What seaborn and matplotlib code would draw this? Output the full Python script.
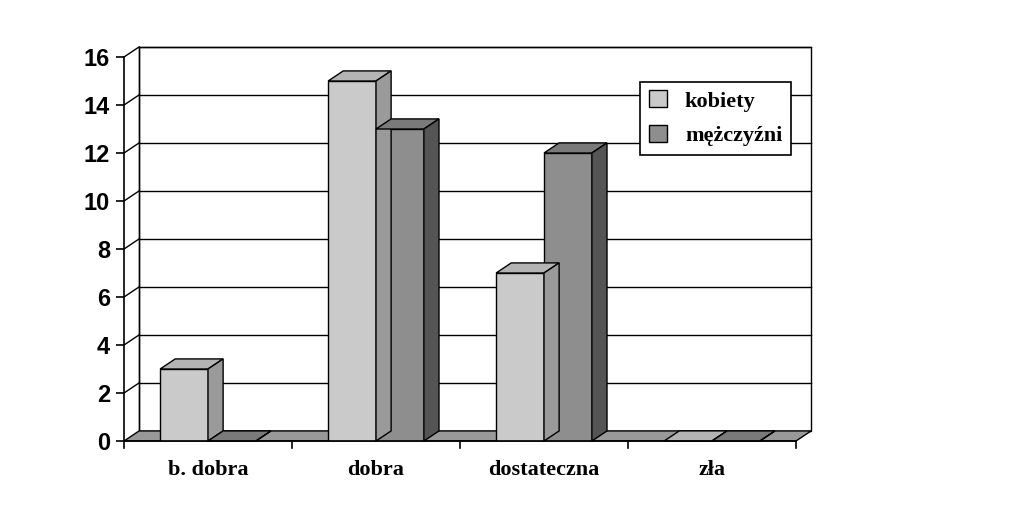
import matplotlib.pyplot as plt
import matplotlib.patches as mpatches
import seaborn as sns
import pandas as pd

categories = ['b. dobra', 'dobra', 'dostateczna', 'zła']
kobiety = [3, 15, 7, 0]
mezczyzni = [0, 13, 12, 0]
series = ['kobiety', 'mężczyźni']

df = pd.DataFrame({
    'kat': categories * 2,
    'wart': kobiety + mezczyzni,
    'plec': [series[0]] * 4 + [series[1]] * 4,
})

front = {'kobiety': '#cacaca', 'mężczyźni': '#8e8e8e'}
top = {'kobiety': '#b4b4b4', 'mężczyźni': '#7a7a7a'}
side = {'kobiety': '#9a9a9a', 'mężczyźni': '#555555'}
dx, dy = 0.09, 0.42

fig = plt.figure(figsize=(10.23, 5.09), dpi=100)
ax = fig.add_axes([124/1023, 68/509, 672/1023, 384/509])
sns.barplot(data=df, x='kat', y='wart', hue='plec', palette=front, width=0.57,
            edgecolor='black', linewidth=1, ax=ax, legend=False, zorder=3)
ax.set_xlim(-0.5, 3.5)
ax.set_ylim(0, 16)
for s in ax.spines.values():
    s.set_visible(False)

# back wall + grid
wall = mpatches.Rectangle((-0.5 + dx, dy), 4, 16 - dy + dy, fill=False, ec='black', lw=1,
                          clip_on=False, zorder=1)
ax.add_patch(wall)
for v in range(2, 17, 2):
    ax.plot([-0.5 + dx, 3.5 + dx], [v + dy, v + dy], color='black', lw=1, clip_on=False, zorder=1)
    ax.plot([-0.5, -0.5 + dx], [v, v + dy], color='black', lw=1, clip_on=False, zorder=1)
ax.plot([-0.5 + dx, -0.5 + dx], [dy, 16 + dy], color='black', lw=1, clip_on=False, zorder=1)
# floor
ax.add_patch(mpatches.Polygon([(-0.5, 0), (3.5, 0), (3.5 + dx, dy), (-0.5 + dx, dy)],
                              closed=True, fc='#999999', ec='black', lw=1, clip_on=False, zorder=2))
ax.plot([-0.5, -0.5], [0, 16], color='black', lw=1.2, clip_on=False, zorder=4)
ax.plot([-0.5, 3.5], [0, 0], color='black', lw=1.2, clip_on=False, zorder=4)

# 3D faces
for i, p in enumerate(ax.patches[:8]):
    name = series[i // 4]
    x0, w, h = p.get_x(), p.get_width(), p.get_height()
    ax.add_patch(mpatches.Polygon([(x0, h), (x0 + w, h), (x0 + w + dx, h + dy), (x0 + dx, h + dy)],
                                  fc=top[name], ec='black', lw=1, clip_on=False, zorder=3))
    ax.add_patch(mpatches.Polygon([(x0 + w, 0), (x0 + w + dx, dy), (x0 + w + dx, h + dy), (x0 + w, h)],
                                  fc=side[name], ec='black', lw=1, clip_on=False, zorder=3))

ax.set_yticks(range(0, 17, 2))
ax.set_yticklabels([str(v) for v in range(0, 17, 2)], fontfamily='Liberation Sans',
                   fontweight='bold', fontsize=17)
ax.set_xticks(range(4))
ax.set_xticklabels(categories, fontfamily='Liberation Serif', fontweight='bold', fontsize=16)
ax.tick_params(axis='x', length=0, pad=14)
ax.tick_params(axis='y', length=6, width=1.2, direction='out', pad=4)
for b in [-0.5, 0.5, 1.5, 2.5, 3.5]:
    ax.plot([b, b], [0, -0.3], color='black', lw=1.2, clip_on=False)
ax.set_xlabel('')
ax.set_ylabel('')

handles = [mpatches.Patch(fc=front[s], ec='black', label=s) for s in series]
leg = ax.legend(handles=handles, loc='upper left', bbox_to_anchor=(0.752, 0.965),
                prop={'family': 'Liberation Serif', 'weight': 'bold', 'size': 16},
                frameon=True, fancybox=False, edgecolor='black', framealpha=1,
                handlelength=0.8, handleheight=0.8, borderpad=0.4, labelspacing=0.6)
leg.get_frame().set_linewidth(1.2)
leg.set_zorder(10)

fig.savefig('out.png', dpi=100)
